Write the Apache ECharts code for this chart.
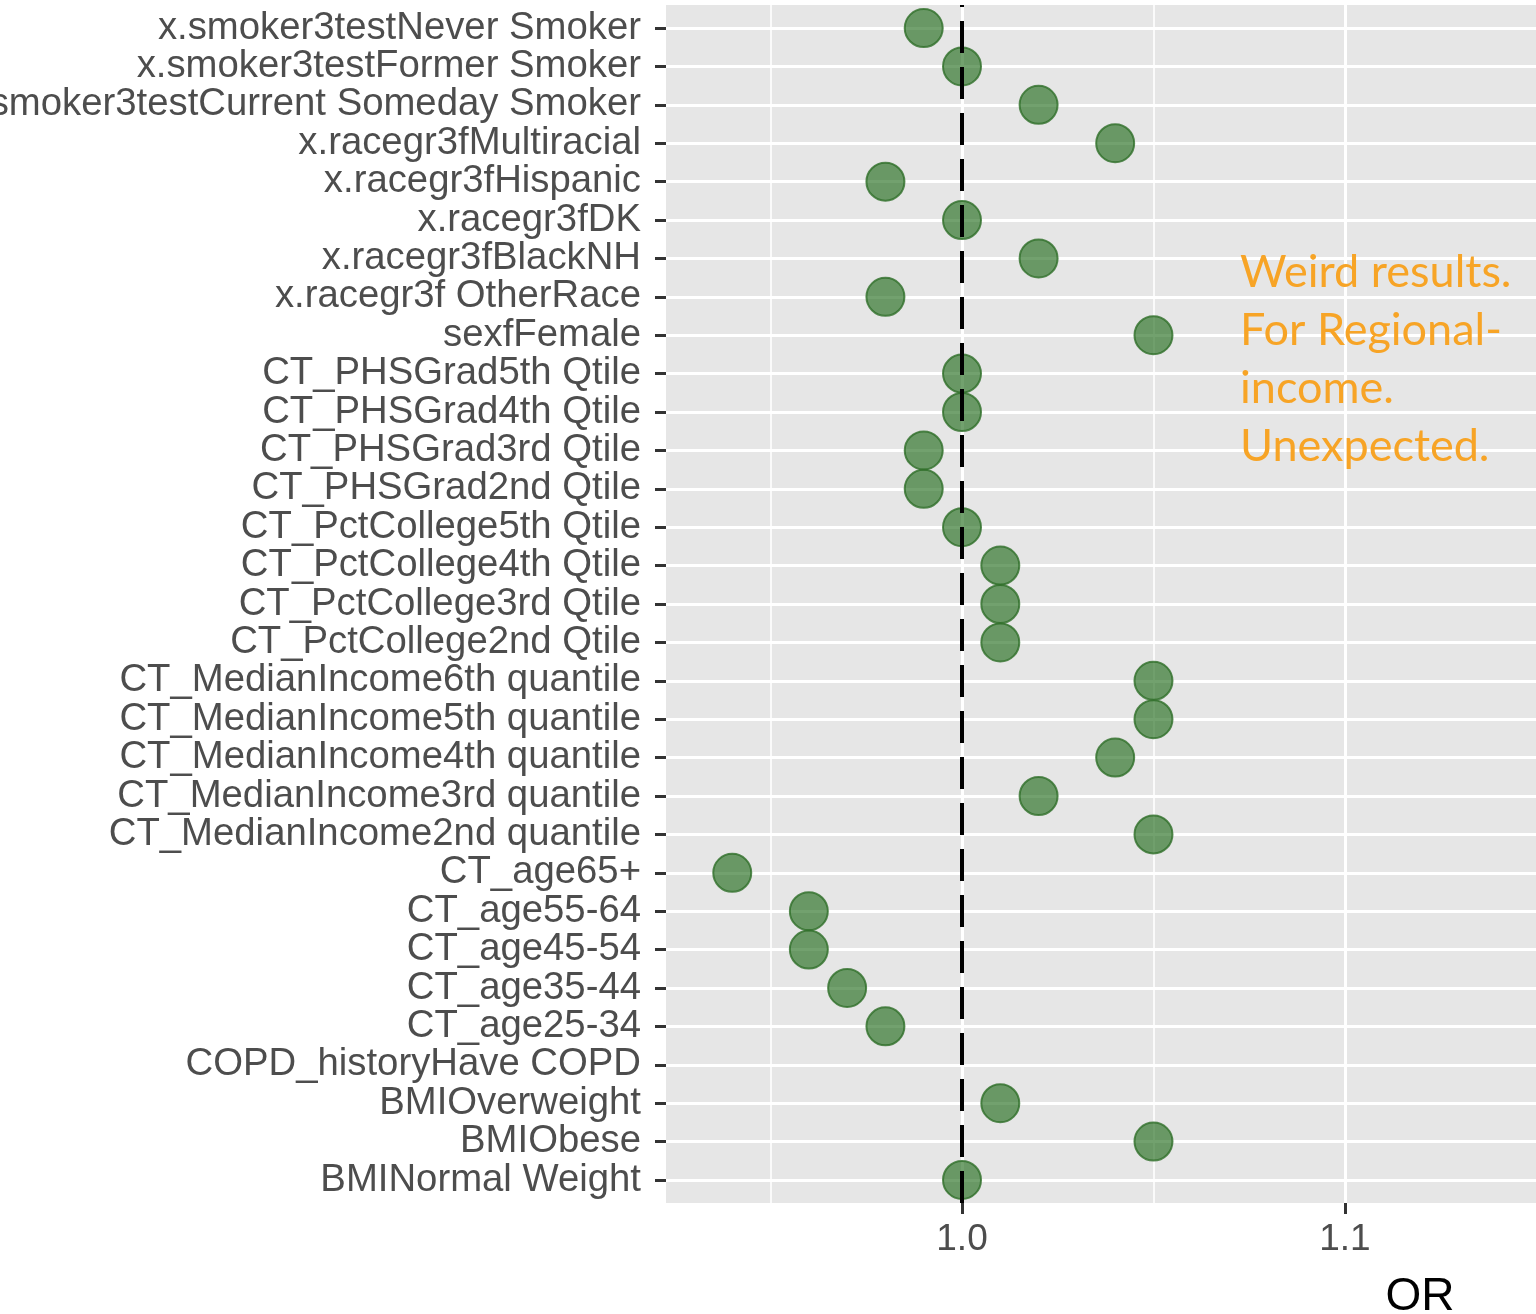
<!DOCTYPE html>
<html>
<head>
<meta charset="utf-8">
<script src="https://cdn.jsdelivr.net/npm/echarts@6/dist/echarts.min.js"></script>
<style>
  html, body { margin: 0; padding: 0; background: #ffffff; }
  #chart { width: 1536px; height: 1314px; }
</style>
</head>
<body>
<div id="chart"></div>
<script>
// Model terms, listed from the bottom row of the plot to the top row
const terms = [
  'BMINormal Weight',
  'BMIObese',
  'BMIOverweight',
  'COPD_historyHave COPD',
  'CT_age25-34',
  'CT_age35-44',
  'CT_age45-54',
  'CT_age55-64',
  'CT_age65+',
  'CT_MedianIncome2nd quantile',
  'CT_MedianIncome3rd quantile',
  'CT_MedianIncome4th quantile',
  'CT_MedianIncome5th quantile',
  'CT_MedianIncome6th quantile',
  'CT_PctCollege2nd Qtile',
  'CT_PctCollege3rd Qtile',
  'CT_PctCollege4th Qtile',
  'CT_PctCollege5th Qtile',
  'CT_PHSGrad2nd Qtile',
  'CT_PHSGrad3rd Qtile',
  'CT_PHSGrad4th Qtile',
  'CT_PHSGrad5th Qtile',
  'sexfFemale',
  'x.racegr3f OtherRace',
  'x.racegr3fBlackNH',
  'x.racegr3fDK',
  'x.racegr3fHispanic',
  'x.racegr3fMultiracial',
  'x.smoker3testCurrent Someday Smoker',
  'x.smoker3testFormer Smoker',
  'x.smoker3testNever Smoker'
];

// Odds ratio for each term (same order as terms)
const oddsRatios = [
  1.00, 1.05, 1.01, 1.30,
  0.98, 0.97, 0.96, 0.96, 0.94,
  1.05, 1.02, 1.04, 1.05, 1.05,
  1.01, 1.01, 1.01, 1.00,
  0.99, 0.99, 1.00, 1.00,
  1.05,
  0.98, 1.02, 1.00, 0.98, 1.04,
  1.02, 1.00, 0.99
];

// Axis breaks
const xMajorBreaks = [1.0, 1.1, 1.2, 1.3];
const xMinorBreaks = [0.95, 1.05, 1.15, 1.25];
const referenceOR = 1.0;

// Side note text
const noteLines = ['Weird results.', 'For Regional-', 'income.', 'Unexpected.'];

const FONT = '"Liberation Sans", Arial, Helvetica, sans-serif';
const rowPositions = terms.map((t, i) => i + 1);
const points = oddsRatios.map((v, i) => [v, i + 1]);

const gridLineData = []
  .concat(rowPositions.map(p => ({ yAxis: p, lineStyle: { color: '#ffffff', width: 3, type: 'solid' } })))
  .concat(xMinorBreaks.map(v => ({ xAxis: v, lineStyle: { color: '#ffffff', width: 1.6, type: 'solid' } })))
  .concat(xMajorBreaks.map(v => ({ xAxis: v, lineStyle: { color: '#ffffff', width: 3, type: 'solid' } })));

const chart = echarts.init(document.getElementById('chart'), null, { renderer: 'canvas' });

chart.setOption({
  animation: false,
  backgroundColor: '#ffffff',
  grid: {
    left: 666,
    top: 5,
    width: 1508,
    height: 1198,
    containLabel: false,
    outerBoundsMode: 'none',
    show: true,
    backgroundColor: '#E6E6E6',
    borderWidth: 0
  },
  xAxis: {
    type: 'value',
    min: 0.9227,
    max: 1.3165,
    axisLine: { show: false },
    axisTick: {
      show: true,
      customValues: xMajorBreaks,
      length: 11,
      lineStyle: { color: '#333333', width: 3 }
    },
    axisLabel: {
      customValues: xMajorBreaks,
      formatter: v => Number(v).toFixed(1),
      margin: 18,
      fontSize: 37,
      lineHeight: 38,
      color: '#4D4D4D',
      fontFamily: FONT,
      hideOverlap: false
    },
    splitLine: { show: false },
    name: 'OR',
    nameLocation: 'middle',
    nameGap: 71,
    nameTextStyle: { fontSize: 46, color: '#000000', fontFamily: FONT }
  },
  yAxis: {
    type: 'value',
    min: 0.4,
    max: 31.6,
    axisLine: { show: false },
    axisTick: {
      show: true,
      customValues: rowPositions,
      length: 11,
      lineStyle: { color: '#333333', width: 3 }
    },
    axisLabel: {
      customValues: rowPositions,
      formatter: v => terms[Math.round(v) - 1] || '',
      margin: 25,
      fontSize: 38.3,
      color: '#4D4D4D',
      fontFamily: FONT,
      showMinLabel: true,
      showMaxLabel: true,
      hideOverlap: false
    },
    splitLine: { show: false }
  },
  series: [
    {
      name: 'gridlines',
      type: 'scatter',
      z: 1,
      silent: true,
      symbolSize: 0,
      data: points,
      markLine: {
        z: 1,
        silent: true,
        symbol: 'none',
        animation: false,
        label: { show: false },
        data: gridLineData
      }
    },
    {
      name: 'OR',
      type: 'scatter',
      z: 3,
      symbol: 'circle',
      symbolSize: 38,
      data: points,
      itemStyle: {
        color: 'rgba(40, 112, 34, 0.82)',
        borderColor: '#2E6E28',
        borderWidth: 2
      }
    },
    {
      name: 'reference',
      type: 'scatter',
      z: 4,
      silent: true,
      symbolSize: 0,
      data: [],
      markLine: {
        z: 6,
        silent: true,
        symbol: 'none',
        animation: false,
        label: { show: false },
        lineStyle: { color: '#000000', width: 4, type: [32, 14] },
        data: [{ xAxis: referenceOR }]
      }
    }
  ],
  graphic: [
    {
      type: 'text',
      left: 1240,
      top: 243,
      z: 10,
      style: {
        text: noteLines.join('\n'),
        fill: '#F7A426',
        fontSize: 45,
        lineHeight: 58,
        fontFamily: 'Lato, "Open Sans", sans-serif'
      }
    }
  ]
});
</script>
</body>
</html>
